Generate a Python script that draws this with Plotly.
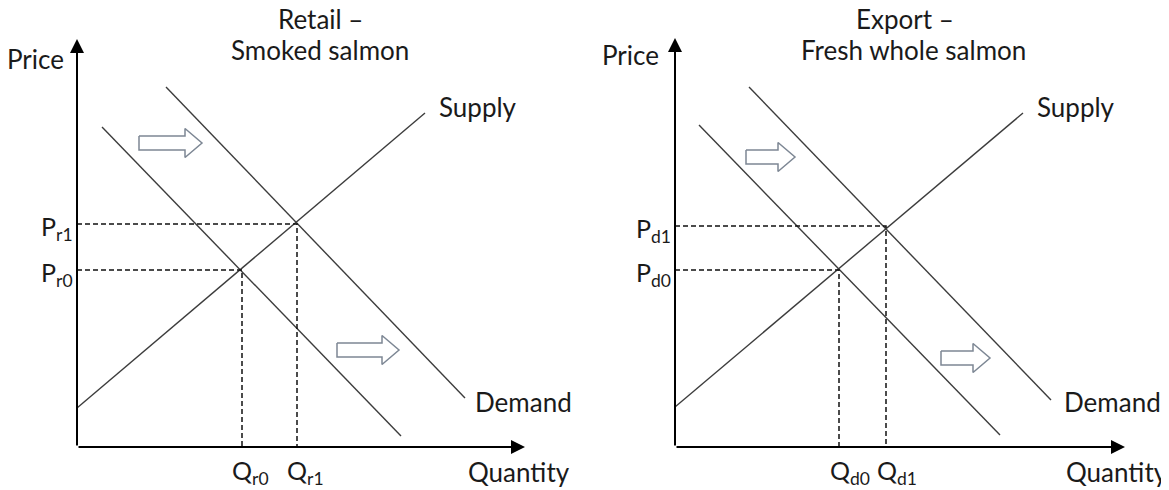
import plotly.graph_objects as go

# ---------------- data (quantity / price units, origin at axes corner) ----------------
# Left panel: Retail – Smoked salmon
retail_supply_q = [0, 348]
retail_supply_p = [39, 334]
retail_d0_q = [25, 324]
retail_d0_p = [320, 11]
retail_d1_q = [89, 388]
retail_d1_p = [360, 49]
retail_eq_q = [165, 220]          # Qr0, Qr1
retail_eq_p = [177, 223]          # Pr0, Pr1
retail_eq_qlabels = ["Q<sub>r0</sub>", "Q<sub>r1</sub>"]
retail_eq_plabels = ["P<sub>r0</sub>", "P<sub>r1</sub>"]
retail_axis_max = [448, 408]      # quantity axis end, price axis end
retail_shift_arrows = [(62, 125, 304), (260, 322, 97)]   # (q start, q end, p)

# Right panel: Export – Fresh whole salmon
export_supply_q = [0, 348]
export_supply_p = [40, 334]
export_d0_q = [24, 325]
export_d0_p = [322, 12]
export_d1_q = [74, 376]
export_d1_p = [360, 47]
export_eq_q = [164, 211]          # Qd0, Qd1
export_eq_p = [177, 221]          # Pd0, Pd1
export_eq_qlabels = ["Q<sub>d0</sub>", "Q<sub>d1</sub>"]
export_eq_plabels = ["P<sub>d0</sub>", "P<sub>d1</sub>"]
export_axis_max = [450, 409]
export_shift_arrows = [(71, 120, 290), (266, 315, 89)]

# ---------------- style ----------------
FONT = "Lato"
FS = 26
TXT = "#1a1a1a"
LINE = "#3c3c3c"
ARROW_EDGE = "#7d8794"
PAGE_OFF = 8                      # default body margin of the html page
W, H = 1169 - PAGE_OFF, 490 - PAGE_OFF

fig = go.Figure()


def add_panel(xa, sq, sp, d0q, d0p, d1q, d1p, eqq, eqp, qlab, plab, axmax, shifts, qshift):
    xref = "x" if xa == "x" else "x2"
    kw = dict(xaxis=xa, yaxis="y", showlegend=False, hoverinfo="skip")
    # curves
    for qq, pp in [(sq, sp), (d0q, d0p), (d1q, d1p)]:
        fig.add_trace(go.Scatter(x=qq, y=pp, mode="lines",
                                 line=dict(color=LINE, width=1.4), **kw))
    # dashed guides
    for q, p in zip(eqq, eqp):
        fig.add_trace(go.Scatter(x=[0, q, q], y=[p, p, 0], mode="lines",
                                 line=dict(color="#111", width=1.5, dash="5px,3px"), **kw))
    # block shift arrows
    for q0, q1, p in shifts:
        bh, hh, hl = 7, 14.5, 17
        xs = [q0, q1 - hl, q1 - hl, q1, q1 - hl, q1 - hl, q0, q0]
        ys = [p + bh, p + bh, p + hh, p, p - hh, p - bh, p - bh, p + bh]
        fig.add_trace(go.Scatter(x=xs, y=ys, mode="lines", fill="toself",
                                 fillcolor="white",
                                 line=dict(color=ARROW_EDGE, width=1.5), **kw))
    # axes with arrow heads
    for (x, y) in [(axmax[0], 0), (0, axmax[1])]:
        fig.add_annotation(x=x, y=y, ax=0, ay=0, xref=xref, yref="y",
                           axref=xref, ayref="y", text="", showarrow=True,
                           arrowhead=2, arrowsize=1.4, arrowwidth=2, arrowcolor="#000")
    # equilibrium labels
    for q, t in zip(eqq, qlab):
        fig.add_annotation(x=q, y=-25, xref=xref, yref="y", text=t, showarrow=False,
                           xanchor="center", yanchor="middle", xshift=qshift, borderpad=0,
                           font=dict(family=FONT, size=FS - 1, color=TXT))
    for p, t in zip(eqp, plab):
        fig.add_annotation(x=-3, y=p, xref=xref, yref="y", text=t, showarrow=False,
                           xanchor="right", yanchor="middle", yshift=-4, borderpad=0,
                           font=dict(family=FONT, size=FS - 1, color=TXT))


add_panel("x", retail_supply_q, retail_supply_p, retail_d0_q, retail_d0_p,
          retail_d1_q, retail_d1_p, retail_eq_q, retail_eq_p,
          retail_eq_qlabels, retail_eq_plabels, retail_axis_max, retail_shift_arrows, 8)
add_panel("x2", export_supply_q, export_supply_p, export_d0_q, export_d0_p,
          export_d1_q, export_d1_p, export_eq_q, export_eq_p,
          export_eq_qlabels, export_eq_plabels, export_axis_max, export_shift_arrows, 11)


def label(xref, x, y, text, xanchor="center", size=FS):
    fig.add_annotation(x=x, y=y, xref=xref, yref="y", text=text, showarrow=False,
                       xanchor=xanchor, yanchor="middle", borderpad=0,
                       font=dict(family=FONT, size=size, color=TXT))


# left panel texts
label("x", 243, 428, "Retail –")
label("x", 243, 397, "Smoked salmon")
label("x", -42, 388, "Price")
label("x", 361, 340, "Supply", "left")
label("x", 397, 45, "Demand", "left")
label("x", 494, -25, "Quantity", "right")
# right panel texts
label("x2", 230, 428, "Export –")
label("x2", 238, 397, "Fresh whole salmon")
label("x2", -45, 392, "Price")
label("x2", 361, 340, "Supply", "left")
label("x2", 388, 45, "Demand", "left")
label("x2", 494, -25, "Quantity", "right")

ax_common = dict(visible=False, showgrid=False, zeroline=False, fixedrange=True)
fig.update_layout(
    width=W, height=H,
    margin=dict(l=0, r=0, t=0, b=0),
    paper_bgcolor="white", plot_bgcolor="white",
    xaxis=dict(range=[-77 + PAGE_OFF, W - 77 + PAGE_OFF], domain=[0, 1], **ax_common),
    xaxis2=dict(range=[-675 + PAGE_OFF, W - 675 + PAGE_OFF], domain=[0, 1],
                overlaying="x", **ax_common),
    yaxis=dict(range=[447 - PAGE_OFF - H, 447 - PAGE_OFF], domain=[0, 1], **ax_common),
    font=dict(family=FONT, color=TXT),
)

fig.write_html("out.html")
